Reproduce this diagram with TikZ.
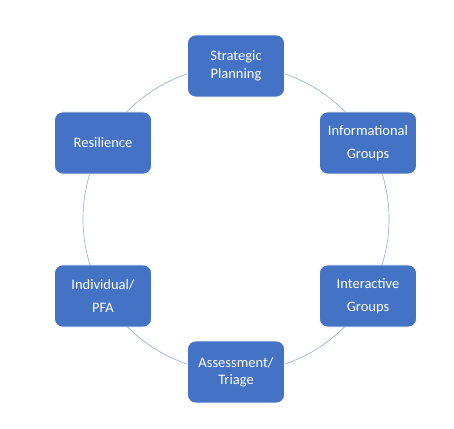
\documentclass[tikz,border=0pt]{standalone}
\usepackage{fontspec}
\setmainfont{Carlito}
\usetikzlibrary{backgrounds}
\definecolor{boxblue}{HTML}{4472C4}
\definecolor{ringblue}{HTML}{8FAADC}
\tikzset{
  stagebox/.style={rectangle, rounded corners=8pt, fill=boxblue, draw=white, line width=0.8pt,
    minimum width=97pt, minimum height=62pt, text=white, align=center, inner sep=0pt,
    font=\fontsize{14.5}{17.5}\selectfont},
  widebox/.style={stagebox, font=\fontsize{14.5}{22.5}\selectfont},
  ring/.style={draw=ringblue, line width=0.6pt}
}
\begin{document}
\begin{tikzpicture}[x=1pt,y=1pt]
\useasboundingbox (0,0) rectangle (454,428);
\coordinate (c) at (236,209);
\node[stagebox] (sp) at (236,362) {Strategic\\Planning};
\node[widebox] (ig) at (368,285) {Informational\\Groups};
\node[widebox] (int) at (368,132) {Interactive\\Groups};
\node[stagebox] (at) at (236,56) {Assessment/\\Triage};
\node[widebox] (ip) at (103,132) {Individual/\\PFA};
\node[stagebox] (res) at (103,285) {Resilience};
\begin{scope}[on background layer]
\draw[ring] (c) circle (153);
\end{scope}
\end{tikzpicture}
\end{document}
